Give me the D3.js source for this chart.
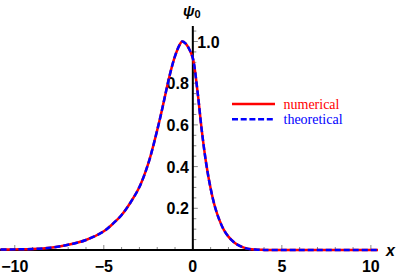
<!DOCTYPE html>
<html><head><meta charset="utf-8">
<script src="https://cdn.jsdelivr.net/npm/d3@7"></script>
<style>body{margin:0;background:#fff}svg{display:block}</style>
</head><body>
<script>
// Data
const xs = [-10.8,-10,-9,-8,-7,-6,-5,-4.5,-4,-3.5,-3,-2.5,-2,-1.75,-1.5,-1.25,-1,-0.75,-0.6,-0.4,-0.2,0,0.25,0.5,0.75,1,1.25,1.5,1.75,2,2.25,2.5,3,3.5,4,5,6,7,8,9,10,10.4];
const numerical = [0.002,0.003,0.005,0.011,0.025,0.048,0.09,0.125,0.168,0.228,0.302,0.415,0.575,0.665,0.763,0.855,0.93,0.983,1.0,0.99,0.963,0.92,0.77,0.575,0.415,0.295,0.205,0.142,0.095,0.064,0.042,0.026,0.008,0.002,0.0005,0,0,0,0,0,0,0];
const theoretical = numerical.slice();
const xTickLabels = [-10,-5,0,5,10];
const yTickLabels = [0.2,0.4,0.6,0.8,1.0];
const legendLabels = ["numerical","theoretical"];
const colors = ["#ff0000","#0000ff"];

const W=399,H=276;
const svg=d3.select("body").append("svg").attr("width",W).attr("height",H);
const x=d3.scaleLinear().domain([-10.83,10.4]).range([0,378]);
const y=d3.scaleLinear().domain([0,1]).range([250,41.5]);

// x axis
const gx=svg.append("g");
gx.selectAll("line.minor").data(d3.range(-10,11,1)).enter().append("line")
  .attr("x1",d=>x(d)).attr("x2",d=>x(d)).attr("y1",250).attr("y2",d=>d%5===0?245:247)
  .attr("stroke","#888").attr("stroke-width",1);
gx.append("line").attr("x1",x(-10.83)).attr("x2",x(10.4)).attr("y1",250).attr("y2",250)
  .attr("stroke","#000").attr("stroke-width",2);
gx.selectAll("text").data(xTickLabels).enter().append("text")
  .attr("x",d=>x(d)).attr("y",272).attr("text-anchor","middle")
  .attr("font-family","Liberation Sans, Arial, sans-serif").attr("font-weight","bold").attr("font-size",16)
  .text(d=>d<0?"\u2212"+Math.abs(d):d);

// y axis
const gy=svg.append("g");
gy.selectAll("line.minor").data(d3.range(0.05,1.051,0.05)).enter().append("line")
  .attr("x1",x(0)).attr("x2",(d)=>x(0)+(Math.abs(d*5-Math.round(d*5))<1e-6?5:3.5))
  .attr("y1",d=>y(d)).attr("y2",d=>y(d))
  .attr("stroke","#888").attr("stroke-width",1);
gy.append("line").attr("x1",x(0)).attr("x2",x(0)).attr("y1",26).attr("y2",251)
  .attr("stroke","#000").attr("stroke-width",2);
gy.selectAll("text").data(yTickLabels).enter().append("text")
  .attr("x",d=>d>=0.99?x(0)+4.5:x(0)-4).attr("y",d=>y(d)+6)
  .attr("text-anchor",d=>d>=0.99?"start":"end")
  .attr("font-family","Liberation Sans, Arial, sans-serif").attr("font-weight","bold").attr("font-size",16)
  .text(d=>d.toFixed(1));

// axis labels
const psi=svg.append("text").attr("x",183).attr("y",16)
  .attr("font-family","Liberation Sans, Arial, sans-serif").attr("font-weight","bold").attr("font-style","italic").attr("font-size",15);
psi.append("tspan").text("\u03C8");
psi.append("tspan").attr("font-size",11).attr("font-style","normal").attr("dy",2).text("0");
svg.append("text").attr("x",386).attr("y",256)
  .attr("font-family","Liberation Sans, Arial, sans-serif").attr("font-weight","bold").attr("font-style","italic").attr("font-size",16)
  .text("x");

// curves
const pts=(vals)=>xs.map((d,i)=>[d,vals[i]]);
const line=d3.line().x(d=>x(d[0])).y(d=>Math.min(250,y(d[1]))).curve(d3.curveCatmullRom.alpha(0.5));
svg.append("path").attr("d",line(pts(numerical))).attr("fill","none")
  .attr("stroke",colors[0]).attr("stroke-width",2.5);
svg.append("path").attr("d",line(pts(theoretical))).attr("fill","none")
  .attr("stroke",colors[1]).attr("stroke-width",2.5).attr("stroke-dasharray","6,3");

// legend
const lg=svg.append("g");
legendLabels.forEach((lab,i)=>{
  const yy=104+i*15.3;
  lg.append("line").attr("x1",232).attr("x2",275).attr("y1",yy).attr("y2",yy)
    .attr("stroke",colors[i]).attr("stroke-width",2.5)
    .attr("stroke-dasharray",i===1?"6,2.7":null);
  lg.append("text").attr("x",283.5).attr("y",yy+4.8)
    .attr("font-family","Liberation Serif, Times New Roman, serif").attr("font-size",14)
    .attr("fill",colors[i]).text(lab);
});
</script>
</body></html>
